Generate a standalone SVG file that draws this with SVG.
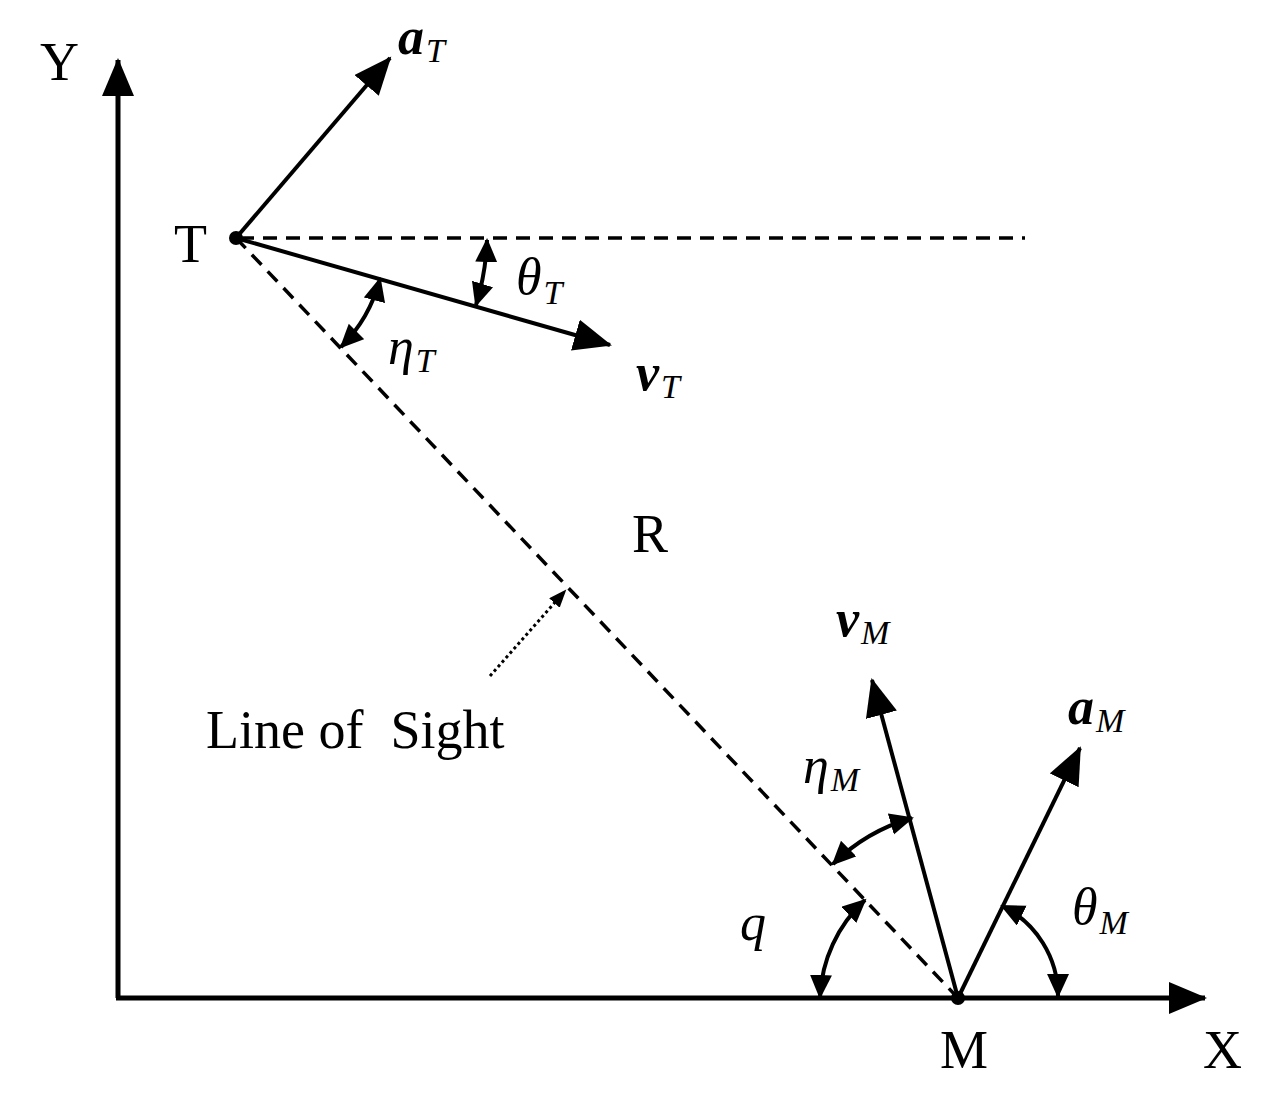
<svg xmlns="http://www.w3.org/2000/svg" width="1273" height="1105" viewBox="0 0 1273 1105">
<style>
.ln{stroke:#000;stroke-width:4;fill:none}
.ax{stroke:#000;stroke-width:5;fill:none}
.ds{stroke:#000;stroke-width:3.5;fill:none;stroke-dasharray:14,9}
.arc{stroke:#000;stroke-width:4;fill:none}
text{font-family:"Liberation Serif","Times New Roman",serif;fill:#000}
.t{font-size:54px}
.m{font-size:52px;font-style:italic}
.b{font-size:52px;font-style:italic;font-weight:bold}
.s{font-size:34px;font-style:italic}
</style>
<defs>
<marker id="big" markerUnits="userSpaceOnUse" markerWidth="40" markerHeight="34" refX="36" refY="16" orient="auto"><path d="M0,0 L38,16 L0,32 Z" fill="#000"/></marker>
<marker id="sm" markerUnits="userSpaceOnUse" markerWidth="26" markerHeight="24" refX="22" refY="11" orient="auto-start-reverse"><path d="M0,0 L24,11 L0,22 Z" fill="#000"/></marker>
<marker id="dt" markerUnits="userSpaceOnUse" markerWidth="20" markerHeight="16" refX="16" refY="7" orient="auto"><path d="M0,0 L18,7 L0,14 Z" fill="#000"/></marker>
</defs>
<g id="connectors">
<path id="y-axis" class="ax" d="M118,998 L118,60" marker-end="url(#big)"/>
<path id="x-axis" class="ax" d="M116,998 L1205,998" marker-end="url(#big)"/>
<path id="horiz" class="ds" d="M240,238 L1025,238"/>
<path id="los" class="ds" d="M236,238 L958,998"/>
<path id="aT" class="ln" d="M236,238 L390,58" marker-end="url(#big)"/>
<path id="vT" class="ln" d="M236,238 L610,345" marker-end="url(#big)"/>
<path id="vM" class="ln" d="M958,998 L872,680" marker-end="url(#big)"/>
<path id="aM" class="ln" d="M958,998 L1080,748" marker-end="url(#big)"/>
<path id="arc-thetaT" class="arc" d="M487,240 A250,250 0 0 1 476,305" marker-start="url(#sm)" marker-end="url(#sm)"/>
<path id="arc-etaT" class="arc" d="M380,279 A150,150 0 0 1 341,347" marker-start="url(#sm)" marker-end="url(#sm)"/>
<path id="arc-etaM" class="arc" d="M912,818 A185,185 0 0 0 833,864" marker-start="url(#sm)" marker-end="url(#sm)"/>
<path id="arc-q" class="arc" d="M820,997 A140,140 0 0 1 865,900" marker-start="url(#sm)" marker-end="url(#sm)"/>
<path id="arc-thetaM" class="arc" d="M1002,906 A100,100 0 0 1 1058,996" marker-start="url(#sm)" marker-end="url(#sm)"/>
<path id="los-pointer" d="M490,676 L565,591" stroke="#000" stroke-width="3" stroke-dasharray="3,3" fill="none" marker-end="url(#dt)"/>
</g>
<g id="node-T"><circle cx="236" cy="238" r="7" fill="#000"/><text class="t" x="174" y="262">T</text></g>
<g id="node-M"><circle cx="958" cy="998" r="7" fill="#000"/><text class="t" x="940" y="1068">M</text></g>
<g id="labels">
<text class="t" x="40" y="80">Y</text>
<text class="t" x="1203" y="1068">X</text>
<text class="t" x="632" y="552">R</text>
<text class="t" x="206" y="748" xml:space="preserve">Line of  Sight</text>
<text x="398" y="54"><tspan class="b">a</tspan><tspan class="s" dx="2" dy="8">T</tspan></text>
<text x="516" y="294"><tspan class="m">θ</tspan><tspan class="s" dx="2" dy="10">T</tspan></text>
<text x="388" y="364"><tspan class="m">η</tspan><tspan class="s" dx="2" dy="8">T</tspan></text>
<text x="636" y="390"><tspan class="b">v</tspan><tspan class="s" dx="2" dy="8">T</tspan></text>
<text x="836" y="636"><tspan class="b">v</tspan><tspan class="s" dx="2" dy="8">M</tspan></text>
<text x="1068" y="724"><tspan class="b">a</tspan><tspan class="s" dx="2" dy="8">M</tspan></text>
<text x="803" y="783"><tspan class="m">η</tspan><tspan class="s" dx="2" dy="8">M</tspan></text>
<text class="m" x="740" y="940">q</text>
<text x="1072" y="924"><tspan class="m">θ</tspan><tspan class="s" dx="2" dy="10">M</tspan></text>
</g>
</svg>
